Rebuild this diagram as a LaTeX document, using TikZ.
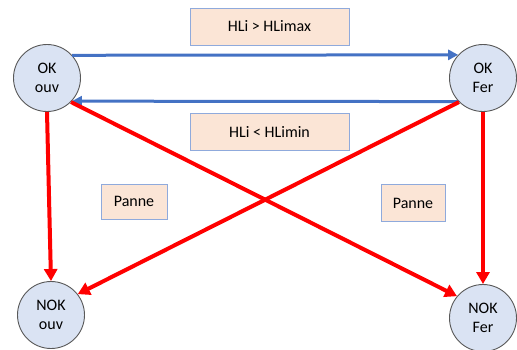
\documentclass[tikz,border=0pt]{standalone}
\usepackage{fontspec}
\setmainfont{Carlito}
\usetikzlibrary{arrows.meta}
\definecolor{nodefill}{HTML}{DAE3F3}
\definecolor{nodeline}{HTML}{595959}
\definecolor{boxfill}{HTML}{FBE5D6}
\definecolor{boxline}{HTML}{8FAADC}
\definecolor{bluearr}{HTML}{4472C4}
\definecolor{redarr}{HTML}{FF0000}
\begin{document}
\begin{tikzpicture}[x=1pt,y=-1pt,
  state/.style={circle,draw=nodeline,line width=0.9pt,fill=nodefill,minimum size=67pt,inner sep=0pt,align=center,font=\fontsize{16}{19}\selectfont},
  label box/.style={draw=boxline,line width=0.9pt,fill=boxfill,inner sep=0pt,font=\fontsize{16}{19}\selectfont},
  bluearrow/.style={draw=bluearr,line width=3pt,-{Triangle[length=10pt,width=10pt]}},
  redarrow/.style={draw=redarr,line width=4pt,-{Triangle[length=12pt,width=13pt]}}]
\useasboundingbox (0,0) rectangle (517,349);
\node[state] (okouv) at (47,78) {OK\\ouv};
\node[state] (okfer) at (483,78) {OK\\Fer};
\node[state] (nokouv) at (51,315) {NOK\\ouv};
\node[state] (nokfer) at (483,318) {NOK\\Fer};
\node[label box,minimum width=159pt,minimum height=37pt] (hmax) at (269.5,26.5) {HLi > HLimax};
\node[label box,minimum width=159pt,minimum height=37pt] (hmin) at (269.5,131.5) {HLi < HLimin};
\node[label box,minimum width=66pt,minimum height=35pt] (p1) at (134,201.5) {Panne};
\node[label box,minimum width=64pt,minimum height=37pt] (p2) at (413,203) {Panne};
\draw[bluearrow] (okouv.{atan2(23,25)}) -- (okfer.{180-atan2(23,25)});
\draw[bluearrow] (okfer.{-180+atan2(24,25)}) -- (okouv.{-atan2(24,25)});
\draw[redarrow] (okouv.south) -- (nokouv.north);
\draw[redarrow] (okfer.south) -- (nokfer.north);
\draw[redarrow] (okouv.-45) -- (nokfer.140);
\draw[redarrow] (okfer.-135) -- (nokouv.38);
\end{tikzpicture}
\end{document}
